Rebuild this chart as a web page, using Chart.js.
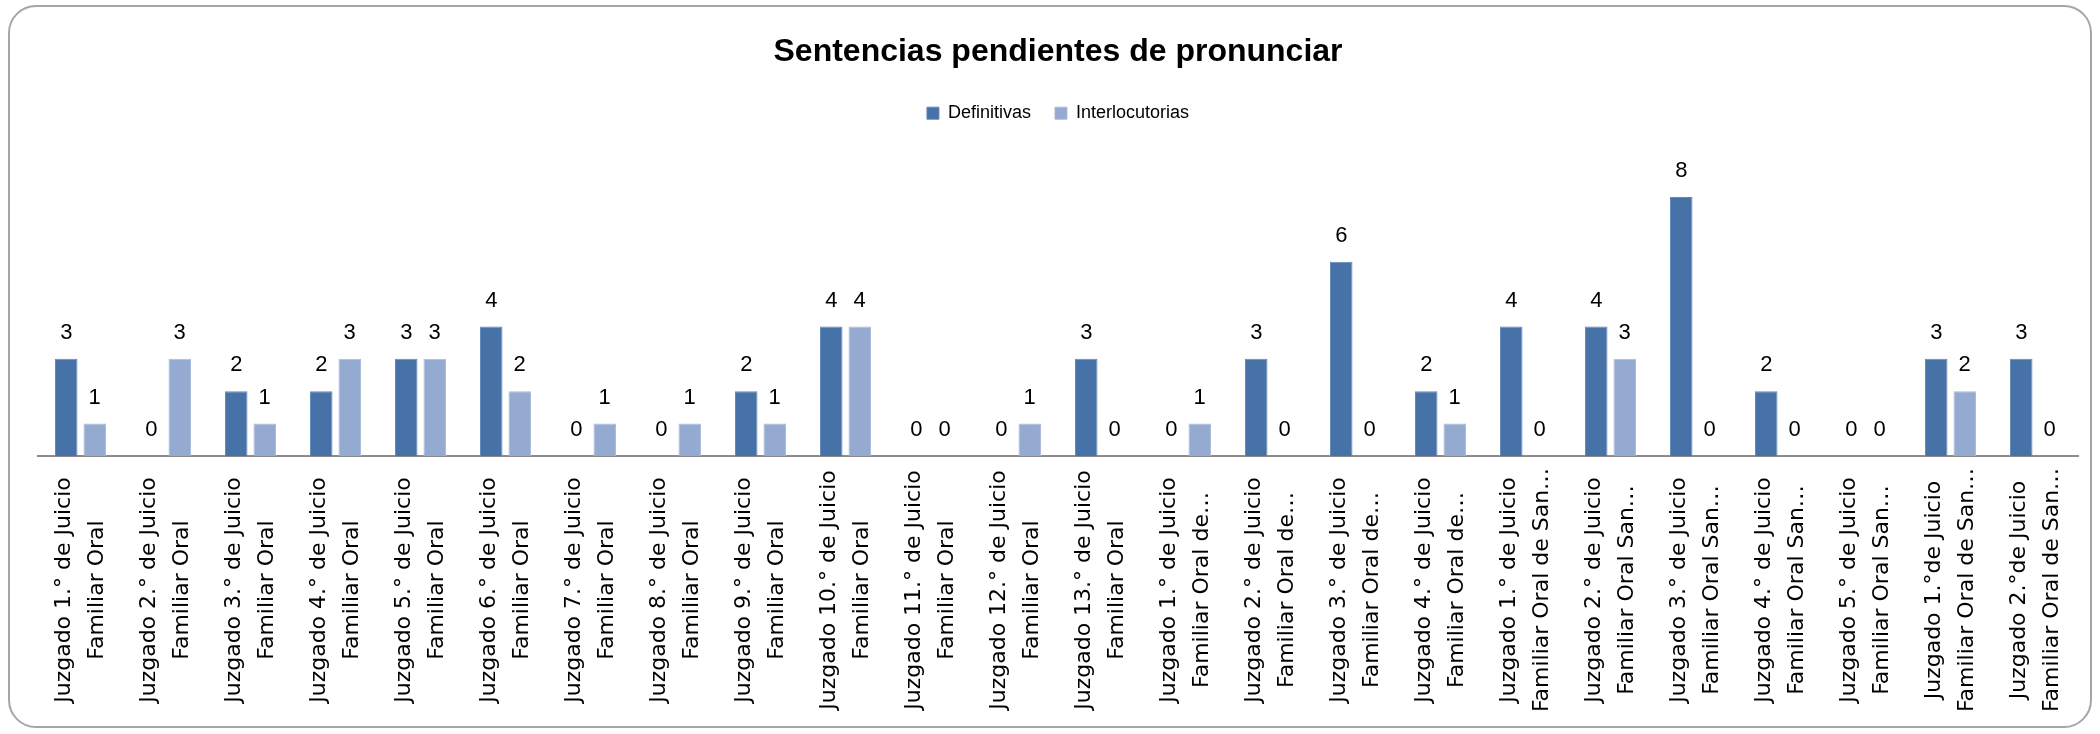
<!DOCTYPE html>
<html><head><meta charset="utf-8">
<script src="https://cdn.jsdelivr.net/npm/chart.js@4.4.0/dist/chart.umd.min.js"></script>
<style>
html,body{margin:0;padding:0;background:#fff;}
#wrap{position:relative;width:2100px;height:734px;overflow:hidden;}
#frame{position:absolute;left:8px;top:5px;width:2084px;height:723px;border:2px solid #a6a6a6;border-radius:28px;pointer-events:none;box-sizing:border-box;}
canvas{position:absolute;left:0;top:0;}
</style></head><body>
<div id="wrap"><canvas id="c" width="2100" height="734"></canvas><div id="frame"></div></div>
<script>
const chartTitle = 'Sentencias pendientes de pronunciar';
const seriesNames = ['Definitivas', 'Interlocutorias'];
const labelLine1 = [
  'Juzgado 1.° de Juicio','Juzgado 2.° de Juicio','Juzgado 3.° de Juicio','Juzgado 4.° de Juicio',
  'Juzgado 5.° de Juicio','Juzgado 6.° de Juicio','Juzgado 7.° de Juicio','Juzgado 8.° de Juicio',
  'Juzgado 9.° de Juicio','Juzgado 10.° de Juicio','Juzgado 11.° de Juicio','Juzgado 12.° de Juicio',
  'Juzgado 13.° de Juicio','Juzgado 1.° de Juicio','Juzgado 2.° de Juicio','Juzgado 3.° de Juicio',
  'Juzgado 4.° de Juicio','Juzgado 1.° de Juicio','Juzgado 2.° de Juicio','Juzgado 3.° de Juicio',
  'Juzgado 4.° de Juicio','Juzgado 5.° de Juicio','Juzgado 1.°de Juicio','Juzgado 2.°de Juicio'
];
const labelLine2 = [
  'Familiar Oral','Familiar Oral','Familiar Oral','Familiar Oral','Familiar Oral','Familiar Oral',
  'Familiar Oral','Familiar Oral','Familiar Oral','Familiar Oral','Familiar Oral','Familiar Oral',
  'Familiar Oral','Familiar Oral de…','Familiar Oral de…','Familiar Oral de…','Familiar Oral de…',
  'Familiar Oral de San…','Familiar Oral San…','Familiar Oral San…','Familiar Oral San…','Familiar Oral San…',
  'Familiar Oral de San…','Familiar Oral de San…'
];
const definitivas     = [3,0,2,2,3,4,0,0,2,4,0,0,3,0,3,6,2,4,4,8,2,0,3,3];
const interlocutorias = [1,3,1,3,3,2,1,1,1,4,0,1,0,1,0,0,1,0,3,0,0,0,2,0];

const categories = labelLine1.map((l, i) => [l, labelLine2[i]]);

// pick a narrow face if one is installed, and fit the title to the reference width
const mctx = document.createElement('canvas').getContext('2d');
function hasFont(name) {
  const s = 'Sentencias pendientes 0123456789';
  mctx.font = "bold 40px monospace"; const a = mctx.measureText(s).width;
  mctx.font = "bold 40px '" + name + "', monospace"; const b = mctx.measureText(s).width;
  return Math.abs(a - b) > 0.5;
}
const narrow = hasFont('Liberation Sans Narrow') ? "'Liberation Sans Narrow'" : "'Liberation Sans'";
mctx.font = "bold 40px " + narrow + ", Arial, sans-serif";
const titleSize = Math.round(40 * 572 / mctx.measureText(chartTitle).width);

const valueLabels = {
  id: 'valueLabels',
  afterDatasetsDraw(chart) {
    const ctx = chart.ctx;
    ctx.save();
    ctx.font = "22px 'Liberation Sans', Arial, sans-serif";
    ctx.fillStyle = '#000';
    ctx.textAlign = 'center';
    ctx.textBaseline = 'middle';
    chart.data.datasets.forEach((ds, di) => {
      const meta = chart.getDatasetMeta(di);
      meta.data.forEach((bar, i) => {
        ctx.fillText(String(ds.data[i]), bar.x, bar.y - 26);
      });
    });
    ctx.restore();
  }
};

const categoryLabels = {
  id: 'categoryLabels',
  afterDraw(chart) {
    const ctx = chart.ctx;
    const xs = chart.scales.x;
    ctx.save();
    ctx.font = "22px 'DejaVu Sans', sans-serif";
    ctx.fillStyle = '#000';
    ctx.textAlign = 'center';
    ctx.textBaseline = 'middle';
    chart.data.labels.forEach((lines, i) => {
      const x = xs.getPixelForTick(i);
      ctx.save();
      ctx.translate(x, 590);
      ctx.rotate(-Math.PI / 2);
      const n = lines.length;
      lines.forEach((t, k) => {
        ctx.fillText(t, 0, (k - (n - 1) / 2) * 33);
      });
      ctx.restore();
    });
    ctx.restore();
  }
};

new Chart(document.getElementById('c'), {
  type: 'bar',
  data: {
    labels: categories,
    datasets: [
      { label: seriesNames[0], data: definitivas, backgroundColor: '#4672A8', borderColor: '#6189BA', borderWidth: 1 },
      { label: seriesNames[1], data: interlocutorias, backgroundColor: '#95AAD0', borderColor: '#AABBDB', borderWidth: 1 }
    ]
  },
  options: {
    responsive: false,
    animation: false,
    devicePixelRatio: 1,
    layout: { padding: { left: 38, right: 22, top: 0, bottom: 278 } },
    datasets: { bar: { categoryPercentage: 0.67, barPercentage: 0.79 } },
    plugins: {
      title: {
        display: true, text: chartTitle, color: '#000',
        font: { family: narrow + ", Arial, sans-serif", size: titleSize, weight: 'bold', lineHeight: 1.2 },
        padding: { top: 52 - titleSize * 0.6, bottom: 9 + 19.2 - titleSize * 0.6 }
      },
      legend: {
        labels: {
          boxWidth: 12, boxHeight: 12, padding: 24, color: '#000',
          font: { family: "'Liberation Sans', Arial, sans-serif", size: 18 }
        }
      },
      tooltip: { enabled: false }
    },
    scales: {
      x: {
        grid: { display: false, drawTicks: false },
        border: { display: true, color: '#8c8c8c', width: 2 },
        ticks: { display: false }
      },
      y: { display: false, min: 0, max: 10 }
    }
  },
  plugins: [valueLabels, categoryLabels]
});
</script>
</body></html>
